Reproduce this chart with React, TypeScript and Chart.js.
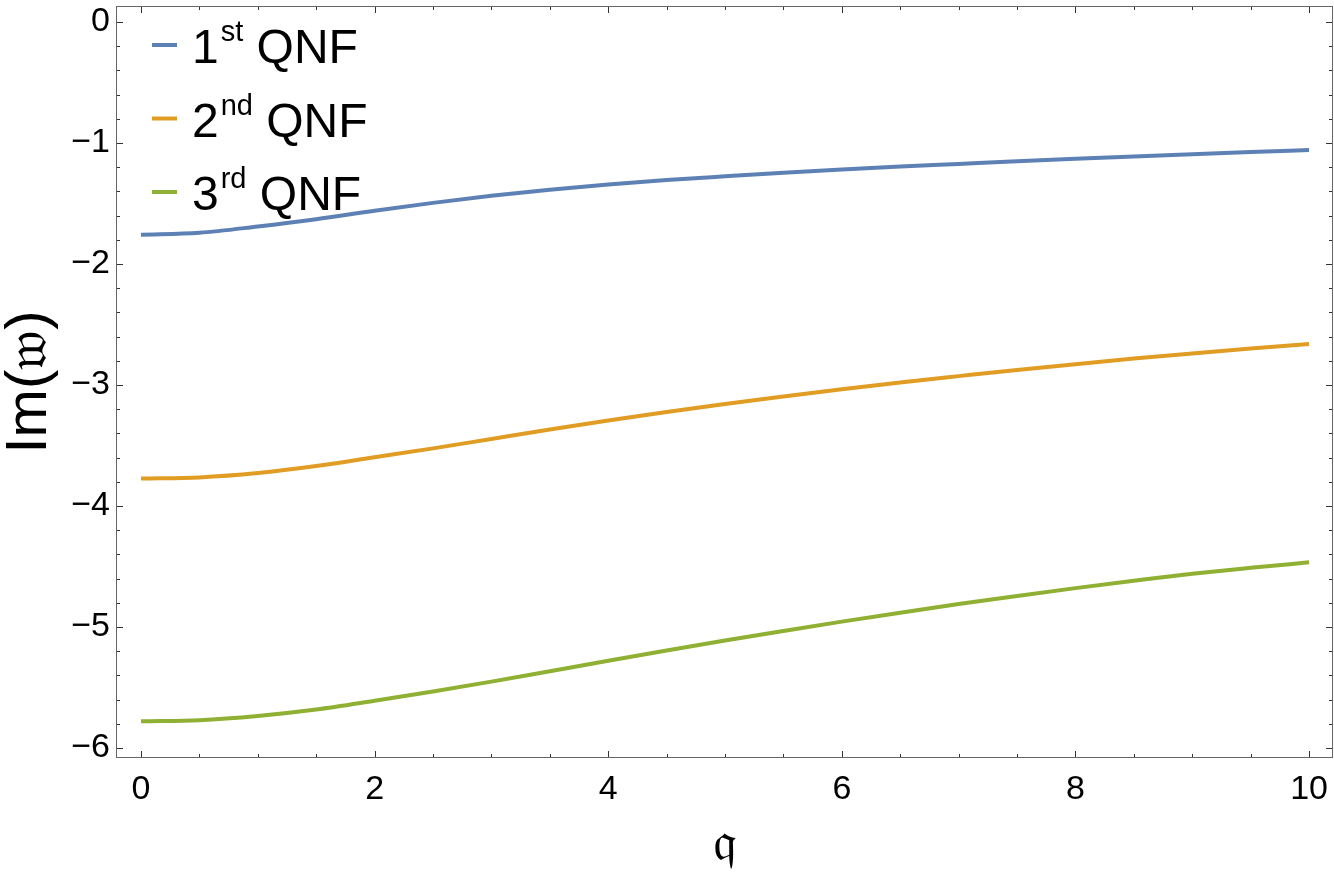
import React, { useEffect, useRef } from "react";
import { Chart, registerables } from "chart.js";

Chart.register(...registerables);

const qValues = [0, 0.5, 1, 1.5, 2, 2.5, 3, 3.5, 4, 4.5, 5, 5.5, 6, 6.5, 7, 7.5, 8, 8.5, 9, 9.5, 10];

const qnf1 = [-1.758, -1.742, -1.69, -1.63, -1.56, -1.495, -1.437, -1.387, -1.344, -1.307, -1.276, -1.247, -1.22, -1.195, -1.173, -1.151, -1.131, -1.112, -1.093, -1.075, -1.058];
const qnf2 = [-3.774, -3.764, -3.728, -3.67, -3.597, -3.524, -3.446, -3.368, -3.294, -3.223, -3.157, -3.095, -3.035, -2.979, -2.927, -2.876, -2.828, -2.782, -2.739, -2.699, -2.661];
const qnf3 = [-5.78, -5.77, -5.735, -5.682, -5.61, -5.534, -5.452, -5.366, -5.28, -5.195, -5.112, -5.033, -4.956, -4.882, -4.811, -4.744, -4.679, -4.618, -4.56, -4.511, -4.466];

const seriesBase = ["1", "2", "3"];
const seriesSup = ["st", "nd", "rd"];
const seriesSuffix = " QNF";
const seriesColors = ["#5E81B5", "#E19C24", "#8FB032"];

const xMajorTicks = [0, 2, 4, 6, 8, 10];
const xMinorTicks = [0.5, 1, 1.5, 2.5, 3, 3.5, 4.5, 5, 5.5, 6.5, 7, 7.5, 8.5, 9, 9.5];
const yMajorTicks = [0, -1, -2, -3, -4, -5, -6];
const yMinorTicks = [-0.2, -0.4, -0.6, -0.8, -1.2, -1.4, -1.6, -1.8, -2.2, -2.4, -2.6, -2.8, -3.2, -3.4, -3.6, -3.8, -4.2, -4.4, -4.6, -4.8, -5.2, -5.4, -5.6, -5.8];

const xTitle = "𝔮";
const yTitle = "Im(𝔴)";

const FONT = "'Liberation Sans', Arial, 'DejaVu Sans', sans-serif";

const framePlugin = {
  id: "mmaFrame",
  afterDraw(chart: any) {
    const { ctx, chartArea, scales } = chart;
    const { left, right, top, bottom } = chartArea;
    const xs = scales.x;
    const ys = scales.y;
    ctx.save();
    ctx.lineWidth = 1;
    ctx.strokeStyle = "#333";
    const seg = (x1: number, y1: number, x2: number, y2: number) => {
      ctx.beginPath();
      ctx.moveTo(x1, y1);
      ctx.lineTo(x2, y2);
      ctx.stroke();
    };
    xMajorTicks.forEach((v) => {
      const px = Math.round(xs.getPixelForValue(v)) + 0.5;
      seg(px, bottom, px, bottom - 7);
      seg(px, top, px, top + 7);
    });
    xMinorTicks.forEach((v) => {
      const px = Math.round(xs.getPixelForValue(v)) + 0.5;
      seg(px, bottom, px, bottom - 4);
      seg(px, top, px, top + 4);
    });
    yMajorTicks.forEach((v) => {
      const py = Math.round(ys.getPixelForValue(v)) + 0.5;
      seg(left, py, left + 7, py);
      seg(right, py, right - 7, py);
    });
    yMinorTicks.forEach((v) => {
      const py = Math.round(ys.getPixelForValue(v)) + 0.5;
      seg(left, py, left + 4, py);
      seg(right, py, right - 4, py);
    });
    ctx.strokeStyle = "#666";
    ctx.strokeRect(left + 0.5, top + 0.5, right - left - 1, bottom - top - 1);

    // legend
    const rowY0 = top + 39;
    const rowStep = 73.5;
    const mainFont = `48px ${FONT}`;
    const supFont = `29px ${FONT}`;
    chart.data.datasets.forEach((ds: any, i: number) => {
      const ly = rowY0 + i * rowStep;
      ctx.strokeStyle = ds.borderColor;
      ctx.lineWidth = 4;
      seg(left + 36, ly, left + 61, ly);
      ctx.fillStyle = "#000";
      ctx.textBaseline = "alphabetic";
      ctx.textAlign = "left";
      let tx = left + 76;
      const base = ly + 18;
      ctx.font = mainFont;
      ctx.fillText(seriesBase[i], tx, base);
      tx += ctx.measureText(seriesBase[i]).width + 2;
      ctx.font = supFont;
      ctx.fillText(seriesSup[i], tx, base - 22);
      tx += ctx.measureText(seriesSup[i]).width;
      ctx.font = mainFont;
      ctx.fillText(seriesSuffix, tx, base);
    });
    ctx.restore();
  },
};

const fmt = (v: number) => (v < 0 ? "\u2212" + Math.abs(v) : String(v));

const zeroPad = (s: any) => {
  s.paddingLeft = 0;
  s.paddingRight = 0;
  s.paddingTop = 0;
  s.paddingBottom = 0;
};

export default function App() {
  const ref = useRef<HTMLCanvasElement | null>(null);
  useEffect(() => {
    if (!ref.current) return;
    const datasets = [qnf1, qnf2, qnf3].map((vals, i) => ({
      label: `${seriesBase[i]}${seriesSup[i]}${seriesSuffix}`,
      data: qValues.map((q, j) => ({ x: q, y: vals[j] })),
      borderColor: seriesColors[i],
      backgroundColor: seriesColors[i],
      borderWidth: 4,
      pointRadius: 0,
      cubicInterpolationMode: "monotone" as const,
      fill: false,
    }));
    const chart = new Chart(ref.current, {
      type: "line",
      data: { datasets },
      plugins: [framePlugin],
      options: {
        animation: false,
        responsive: false,
        devicePixelRatio: 1,
        layout: { padding: { top: 6, right: 1, left: 0, bottom: 0 } },
        plugins: { legend: { display: false }, tooltip: { enabled: false } },
        scales: {
          x: {
            type: "linear",
            min: -0.214,
            max: 10.205,
            grid: { display: false, drawTicks: false },
            border: { display: false },
            afterFit: (s: any) => {
              s.height = 114;
              zeroPad(s);
            },
            afterBuildTicks: (s: any) => {
              s.ticks = xMajorTicks.map((v) => ({ value: v }));
            },
            ticks: {
              padding: 11,
              color: "#000",
              font: { family: FONT, size: 34 },
              maxRotation: 0,
              callback: (v: any) => fmt(Number(v)),
            },
            title: {
              display: true,
              text: xTitle,
              color: "#000",
              font: { family: FONT, size: 54, lineHeight: 1 },
              padding: { top: 0, bottom: 0 },
            },
          },
          y: {
            type: "linear",
            min: -6.083,
            max: 0.132,
            grid: { display: false, drawTicks: false },
            border: { display: false },
            afterFit: (s: any) => {
              s.width = 116;
              zeroPad(s);
            },
            afterBuildTicks: (s: any) => {
              s.ticks = yMajorTicks.map((v) => ({ value: v }));
            },
            ticks: {
              padding: 6,
              color: "#000",
              font: { family: FONT, size: 34 },
              callback: (v: any) => fmt(Number(v)),
            },
            title: {
              display: true,
              text: yTitle,
              color: "#000",
              font: { family: FONT, size: 58, lineHeight: 1 },
              padding: { top: 1, bottom: 0 },
            },
          },
        },
      },
    });
    return () => chart.destroy();
  }, []);
  return (
    <div style={{ position: "absolute", left: 0, top: 0, width: 1334, height: 872, background: "#fff" }}>
      <canvas ref={ref} width={1334} height={872} style={{ display: "block" }} />
    </div>
  );
}
